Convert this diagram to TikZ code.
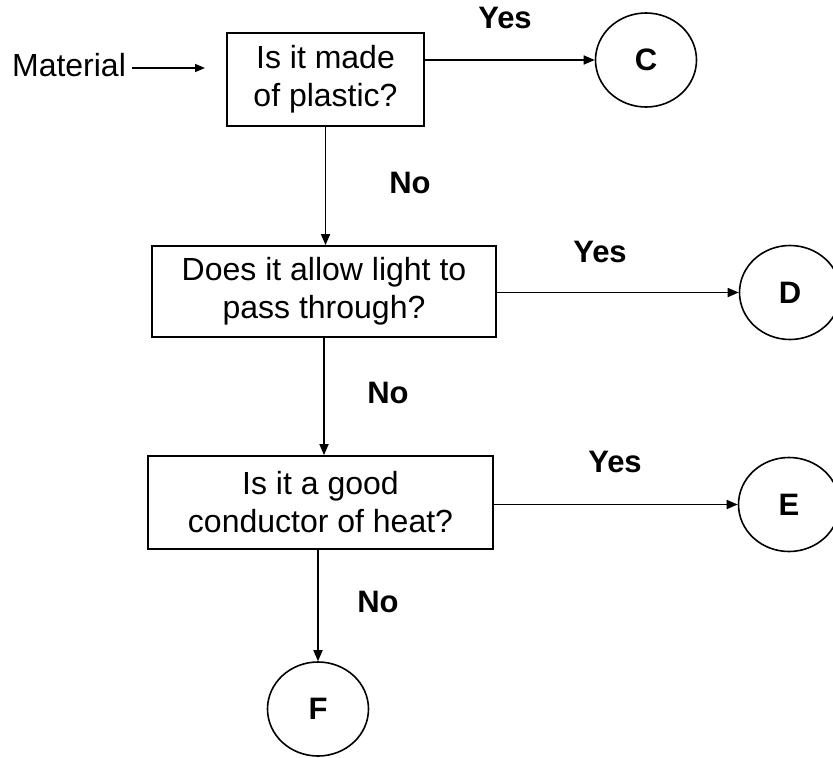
\documentclass[tikz,border=0pt]{standalone}
\usepackage{fontspec}
\setmainfont{Liberation Sans}
\usetikzlibrary{shapes.geometric,arrows.meta}
\begin{document}
\begin{tikzpicture}[x=1pt,y=-1pt,
  question/.style={draw, line width=1.8pt, align=center, inner sep=0pt,
    font=\fontsize{32}{38}\selectfont},
  outcome/.style={draw, ellipse, line width=1.6pt, inner sep=0pt,
    minimum width=101pt, minimum height=94pt,
    font=\fontsize{31}{36}\selectfont\bfseries},
  answer/.style={font=\fontsize{31}{36}\selectfont\bfseries},
  flow/.style={line width=1.7pt, -{Triangle[length=11pt,width=9pt]}}]
\clip (0,0) rectangle (833,758);
\useasboundingbox (0,0) rectangle (833,758);

% question boxes
\node[question, minimum width=197pt, minimum height=93pt] (q1) at (325.5,79.5)
  {Is it made\\of plastic?};
\node[question, minimum width=344pt, minimum height=91pt] (q2) at (324,291.5)
  {Does it allow light to\\pass through?};
\node[question, minimum width=345pt, minimum height=93pt] (q3) at (320.5,502.5)
  {Is it a good\\conductor of heat?};

% outcomes
\node[outcome] (c) at (646,60) {C};
\node[outcome] (d) at (790,292.5) {D};
\node[outcome] (e) at (789,504.5) {E};
\node[outcome] (f) at (318,709) {F};

% input
\node[font=\fontsize{32}{38}\selectfont, inner sep=0pt] (mat) at (69,65) {Material};
\coordinate (matend) at (205,68);
\draw[line width=1.6pt, -{Triangle[length=10pt,width=8pt]}] (mat.east |- matend) ++(6,0) -- (matend);

% yes branches
\draw[flow] (c.west -| q1.east) -- (c.west);
\draw[flow] (d.west -| q2.east) -- (d.west);
\draw[flow] (e.west -| q3.east) -- (e.west);

% no branches
\draw[flow] (q1.south) -- (q1.south |- q2.north);
\draw[flow] (q2.south) -- (q2.south |- q3.north);
\draw[flow] (f.north |- q3.south) -- (f.north);

% labels
\node[answer] (y1) at (505,18) {Yes};
\node[answer] (y2) at (600,252) {Yes};
\node[answer] (y3) at (615,462) {Yes};
\node[answer] (n1) at (410,183) {No};
\node[answer] (n2) at (388,393) {No};
\node[answer] (n3) at (378,602) {No};
\end{tikzpicture}
\end{document}
